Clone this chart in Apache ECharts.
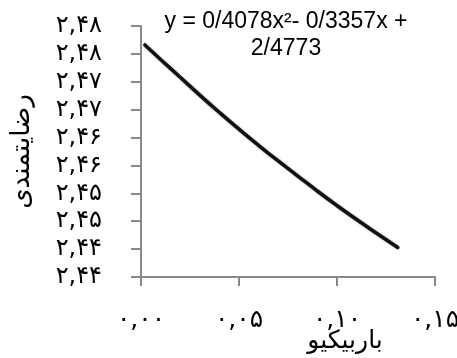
<!DOCTYPE html>
<html>
<head>
<meta charset="utf-8">
<script src="https://cdn.jsdelivr.net/npm/echarts@6/dist/echarts.min.js"></script>
<style>
    html, body {margin: 0; padding: 0; background: #fff;}
    #chart {width: 457px; height: 358px;}
</style>
</head>
<body>
<div id="chart"></div>
<script>
// نقاط خوانده شده از روی منحنی
let xValues = [0.002, 0.01, 0.02, 0.03, 0.04, 0.05, 0.06, 0.07, 0.08, 0.09, 0.10, 0.11, 0.12, 0.131];
let yValues = [2.4766, 2.4740, 2.4708, 2.4676, 2.4645, 2.4615, 2.4586, 2.4558, 2.4531, 2.4504, 2.4478, 2.4453, 2.4429, 2.4403];

let yTickLabels = ['۲,۴۴', '۲,۴۴', '۲,۴۵', '۲,۴۵', '۲,۴۶', '۲,۴۶', '۲,۴۷', '۲,۴۷', '۲,۴۸', '۲,۴۸'];
let xTickLabels = ['۰,۰۰', '۰,۰۵', '۰,۱۰', '۰,۱۵'];

let equationText = 'y = 0/4078x²- 0/3357x +\n2/4773';
let xAxisName = 'باربیکیو';
let yAxisName = 'رضایتمندی';

let Y_MIN = 2.435, Y_MAX = 2.48, Y_STEP = 0.005;
let X_MIN = 0, X_MAX = 0.15, X_STEP = 0.05;

function buildData() {
    let d = [];
    for (let i = 0; i < xValues.length; i++) {
        d.push([xValues[i], yValues[i]]);
    }
    return d;
}

let myChart = echarts.init(document.getElementById('chart'));
let AXIS_COLOR = '#898989';
let FA_FONT = 'DejaVu Sans';

let option = {
    animation: false,
    grid: {left: 141, right: 22, top: 26, bottom: 81, containLabel: false, outerBoundsMode: 'none'},
    xAxis: {
        type: 'value',
        min: X_MIN,
        max: X_MAX,
        interval: X_STEP,
        splitLine: {show: false},
        axisLine: {lineStyle: {color: AXIS_COLOR, width: 2}},
        axisTick: {length: 9, lineStyle: {color: AXIS_COLOR, width: 2}},
        axisLabel: {
            margin: 31,
            fontSize: 25,
            fontFamily: FA_FONT,
            color: '#000',
            formatter: function (v) {
                return xTickLabels[Math.round((v - X_MIN) / X_STEP)];
            }
        },
        name: xAxisName,
        nameLocation: 'middle',
        nameGap: 52,
        nameMoveOverlap: false,
        nameTextStyle: {fontSize: 25, fontFamily: FA_FONT, color: '#000', padding: [0, 0, 0, 114]}
    },
    yAxis: {
        type: 'value',
        min: Y_MIN,
        max: Y_MAX,
        interval: Y_STEP,
        splitLine: {show: false},
        axisLine: {show: true, lineStyle: {color: AXIS_COLOR, width: 2}},
        axisTick: {show: true, length: 10, lineStyle: {color: AXIS_COLOR, width: 2}},
        axisLabel: {
            margin: 39,
            fontSize: 24,
            fontFamily: FA_FONT,
            color: '#000',
            formatter: function (v) {
                return yTickLabels[Math.round((v - Y_MIN) / Y_STEP)];
            }
        },
        name: yAxisName,
        nameLocation: 'middle',
        nameRotate: 90,
        nameGap: 106,
        nameMoveOverlap: false,
        nameTextStyle: {fontSize: 26, fontFamily: FA_FONT, color: '#000'}
    },
    graphic: [{
        type: 'text',
        x: 286,
        y: 8,
        style: {
            text: equationText,
            font: '23px "Liberation Sans"',
            fill: '#000',
            align: 'center',
            verticalAlign: 'top',
            lineHeight: 27
        }
    }],
    series: [{
        type: 'line',
        data: buildData(),
        smooth: true,
        symbol: 'none',
        lineStyle: {
            color: '#111',
            width: 3.5,
            cap: 'round',
            shadowColor: 'rgba(0,0,0,0.45)',
            shadowBlur: 2
        }
    }]
};
myChart.setOption(option);
</script>
</body>
</html>
